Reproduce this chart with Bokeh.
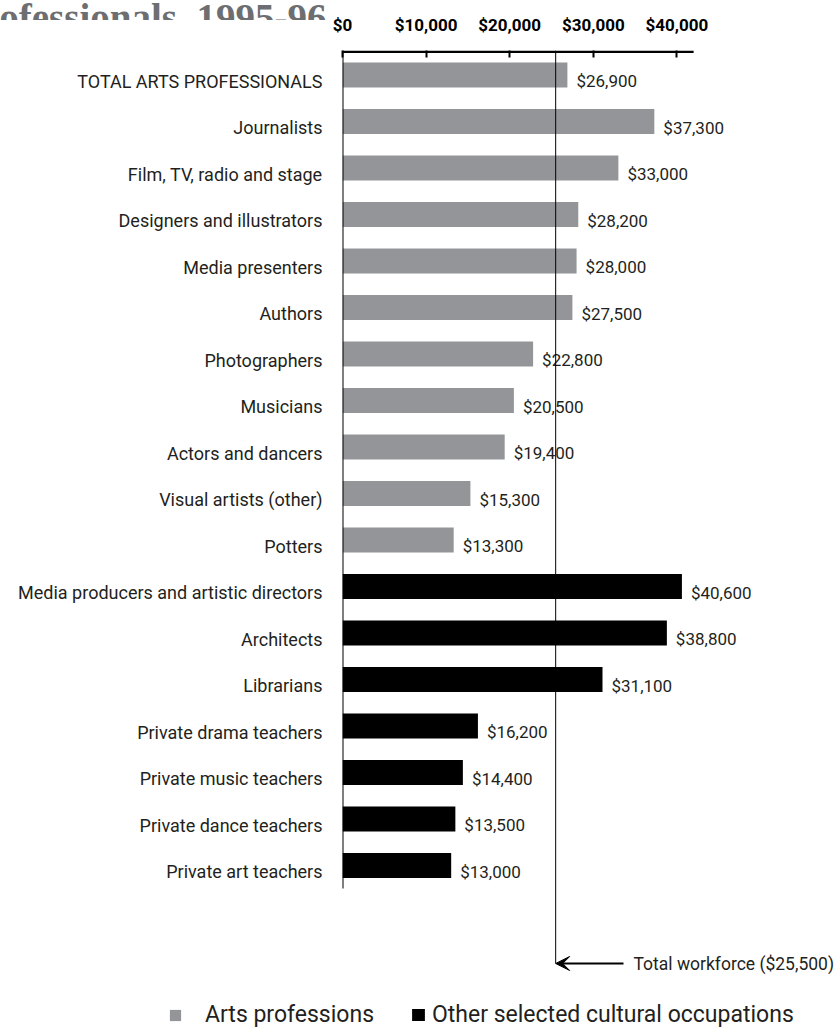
import numpy as np
from bokeh.plotting import figure
from bokeh.layouts import column
from bokeh.models import (Range1d, FixedTicker, NumeralTickFormatter, Label, Arrow,
                          VeeHead, Legend, LegendItem)
from bokeh.embed import file_html
from bokeh.resources import INLINE
from bokeh.core.properties import value

# ---------------- data ----------------
arts_categories = ["TOTAL ARTS PROFESSIONALS", "Journalists", "Film, TV, radio and stage",
                   "Designers and illustrators", "Media presenters", "Authors", "Photographers",
                   "Musicians", "Actors and dancers", "Visual artists (other)", "Potters"]
arts_values = [26900, 37300, 33000, 28200, 28000, 27500, 22800, 20500, 19400, 15300, 13300]

other_categories = ["Media producers and artistic directors", "Architects", "Librarians",
                    "Private drama teachers", "Private music teachers", "Private dance teachers",
                    "Private art teachers"]
other_values = [40600, 38800, 31100, 16200, 14400, 13500, 13000]

x_ticks = [0, 10000, 20000, 30000, 40000]
workforce_value = 25500
workforce_label = "Total workforce ($25,500)"
legend_labels = ["Arts professions", "Other selected cultural occupations"]
title_text = "professionals, 1995-96"

# ---------------- layout helpers ----------------
W, H = 840, 1028
TITLE_H = 20              # title strip, overlapped by the main chart's empty corner
LEGEND_H = 38
MAIN_H = H - LEGEND_H
LEFT = 342
FRAME_TOP = 50            # canvas y of the plot frame top
FRAME_BOTTOM = H - LEGEND_H
PX_PER_UNIT = 8.36 / 1000.0
ROW = 46.5
FIRST_LABEL_PX = 80.5

x_end = (W - LEFT) / PX_PER_UNIT
def ypx(py):               # canvas pixel -> data y
    return (py - FIRST_LABEL_PX) / ROW
def xpx(px):
    return (px - LEFT) / PX_PER_UNIT

y_top = ypx(FRAME_TOP)
y_bot = ypx(FRAME_BOTTOM)

TEXT = "#231f20"
GREY = "#939598"
FONT = "Roboto"

n_arts = len(arts_categories)
n_other = len(other_categories)
arts_y = np.arange(n_arts)
other_y = np.arange(n_arts, n_arts + n_other)
bar_shift = 6 / ROW
bar_h = 25 / ROW

def bare(fig, border="white"):
    fig.outline_line_color = None
    fig.xgrid.visible = False
    fig.ygrid.visible = False
    fig.background_fill_color = "white"
    fig.border_fill_color = border

# ---------------- title strip ----------------
tf = figure(width=W, height=TITLE_H, output_backend="svg", toolbar_location=None,
            x_range=Range1d(0, W), y_range=Range1d(TITLE_H, 0),
            x_axis_type=None, y_axis_type=None, min_border=0, frame_align=False)
bare(tf)
tf.text(x=[326], y=[17], text=[title_text], text_align="right", text_baseline="alphabetic",
        text_font=value("Liberation Serif"), text_font_style="bold",
        text_font_size="39px", text_color="#6d6e71")

# ---------------- main chart ----------------
p = figure(width=W, height=MAIN_H, output_backend="svg", toolbar_location=None,
           x_range=Range1d(0, x_end), y_range=Range1d(start=y_bot, end=y_top),
           x_axis_location="above", min_border_left=LEFT, min_border_right=0,
           min_border_top=FRAME_TOP, min_border_bottom=0, frame_align=False,
           margin=(-TITLE_H, 0, 0, 0))
bare(p, border=None)

xa = p.xaxis[0]
xa.ticker = FixedTicker(ticks=x_ticks)
xa.formatter = NumeralTickFormatter(format="$0,0")
xa.axis_line_color = None
xa.major_tick_in = 7
xa.major_tick_out = 0
xa.major_tick_line_width = 2
xa.major_tick_line_color = "black"
xa.minor_tick_line_color = None
xa.major_label_standoff = 16
xa.major_label_text_font = FONT
xa.major_label_text_font_style = "bold"
xa.major_label_text_font_size = "17px"
xa.major_label_text_color = "black"

ya = p.yaxis[0]
all_categories = arts_categories + other_categories
ya.ticker = FixedTicker(ticks=list(range(len(all_categories))))
ya.major_label_overrides = {i: c for i, c in enumerate(all_categories)}
ya.axis_line_color = None
ya.major_tick_line_color = None
ya.minor_tick_line_color = None
ya.major_label_standoff = 14
ya.major_label_text_font = FONT
ya.major_label_text_font_size = "18px"
ya.major_label_text_color = TEXT

p.hbar(y=arts_y - bar_shift, left=0, right=arts_values, height=bar_h,
       fill_color=GREY, line_color=None)
p.hbar(y=other_y - bar_shift, left=0, right=other_values, height=bar_h,
       fill_color="black", line_color=None)

# axis lines drawn by hand (top axis stops after $40,000, left axis after last bar)
p.segment(x0=[0], x1=[42000], y0=[ypx(51.3)], y1=[ypx(51.3)], line_color="black", line_width=2.5)
p.segment(x0=[0], x1=[0], y0=[y_top], y1=[ypx(888)], line_color="black", line_width=2)

def fmt(v):
    return "${:,}".format(v)
p.text(x=arts_values, y=arts_y, text=[fmt(v) for v in arts_values], x_offset=9,
       text_baseline="middle", text_font=value(FONT), text_font_size="17px", text_color=TEXT)
p.text(x=other_values, y=other_y, text=[fmt(v) for v in other_values], x_offset=9,
       text_baseline="middle", text_font=value(FONT), text_font_size="17px", text_color=TEXT)

wf_y = ypx(963)
p.segment(x0=[workforce_value], x1=[workforce_value], y0=[y_top], y1=[wf_y],
          line_color="black", line_width=1)
p.add_layout(Arrow(end=VeeHead(size=14, fill_color="black", line_color="black"),
                   x_start=xpx(623), y_start=wf_y, x_end=workforce_value, y_end=wf_y,
                   line_color="black", line_width=2))
p.add_layout(Label(x=xpx(633), y=wf_y, text=workforce_label, text_baseline="middle",
                   text_font=FONT, text_font_size="17.5px", text_color=TEXT))

# ---------------- legend strip ----------------
lf = figure(width=W, height=LEGEND_H, output_backend="svg", toolbar_location=None,
            x_range=Range1d(0, W), y_range=Range1d(0, LEGEND_H),
            x_axis_type=None, y_axis_type=None, min_border=0, frame_align=False)
bare(lf)
# swatch renderers (their single box lies outside the visible range; only the legend shows)
r_arts = lf.quad(left=[-20], right=[-10], top=[-10], bottom=[-20], fill_color=GREY, line_color=None)
r_other = lf.quad(left=[-20], right=[-10], top=[-10], bottom=[-20], fill_color="black", line_color=None)

common = dict(orientation="horizontal", padding=0, margin=0, spacing=0,
              label_text_font=FONT, label_text_font_size="23px", label_text_color=TEXT,
              border_line_color=None, background_fill_alpha=0)
lf.add_layout(Legend(items=[LegendItem(label=legend_labels[0], renderers=[r_arts])],
                     location=(168, 0), glyph_width=14, glyph_height=14,
                     label_standoff=23, **common), "center")
lf.add_layout(Legend(items=[LegendItem(label=legend_labels[1], renderers=[r_other])],
                     location=(410, 0), glyph_width=16, glyph_height=15,
                     label_standoff=6, **common), "center")

layout = column(tf, p, lf, spacing=0)
open("out.html", "w").write(file_html(layout, INLINE))
